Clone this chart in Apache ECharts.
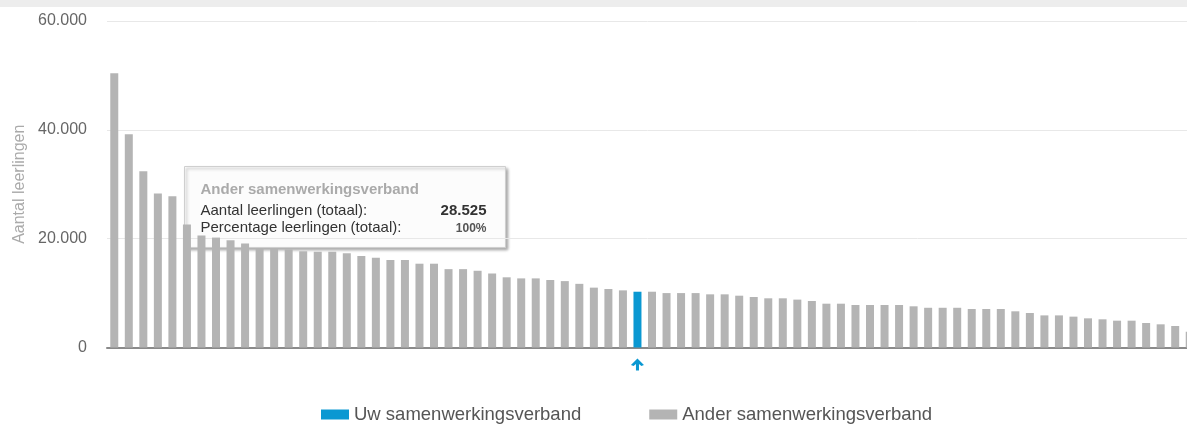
<!DOCTYPE html>
<html>
<head>
<meta charset="utf-8">
<script src="https://cdn.jsdelivr.net/npm/echarts@6/dist/echarts.min.js"></script>
<style>
html,body{margin:0;padding:0;background:#fff;}
#chart{width:1187px;height:428px;}
</style>
</head>
<body>
<div id="chart"></div>
<script>
// ---- data ----
var values = [
  50400, 39200, 32400, 28300, 27800, 22600, 20600, 20200, 19700, 19100,
  18200, 18100, 18000, 17700, 17600, 17600, 17300, 16800, 16500, 16100,
  16100, 15400, 15400, 14400, 14400, 14100, 13600, 12900, 12700, 12700,
  12400, 12200, 11700, 11000, 10750, 10500, 10250, 10250, 10000, 10000,
  10000, 9770, 9770, 9520, 9280, 9040, 9040, 8800, 8550, 8050,
  8050, 7810, 7810, 7810, 7810, 7570, 7300, 7300, 7300, 7070,
  7070, 7070, 6650, 6340, 5900, 5900, 5670, 5360, 5180, 4930,
  4930, 4500, 4260, 3950, 2900
];
var yourIndex = 36;
var categories = values.map(function (v, i) { return 'SWV ' + (i + 1); });
var seriesNames = ['Uw samenwerkingsverband', 'Ander samenwerkingsverband'];
var yTicks = [0, 20000, 40000, 60000];
var tooltipLines = ['Ander samenwerkingsverband', 'Aantal leerlingen (totaal):', 'Percentage leerlingen (totaal):'];
var tooltipValues = ['28.525', '100%'];

var BLUE = '#0a98d2';
var GRAY = '#b4b4b4';
var FONT = 'Liberation Sans, Arial, sans-serif';

function fmt(v) { return String(v).replace(/\B(?=(\d{3})+(?!\d))/g, '.'); }

var ownData = values.map(function (v, i) { return i === yourIndex ? v : '-'; });
var otherData = values.map(function (v, i) { return i === yourIndex ? '-' : v; });

var chart = echarts.init(document.getElementById('chart'), null, {renderer: 'canvas'});
chart.setOption({
  animation: false,
  textStyle: {fontFamily: FONT},
  grid: {left: 107, top: 21, width: 1090, height: 326.5, containLabel: false, outerBoundsMode: 'none'},
  legend: {
    left: 321, top: 405, padding: 0,
    itemWidth: 28, itemHeight: 10, itemGap: 68,
    icon: 'rect',
    textStyle: {fontSize: 18.5, color: '#555', fontFamily: FONT},
    data: seriesNames
  },
  xAxis: {
    type: 'category',
    data: categories,
    axisLine: {show: true, lineStyle: {color: '#8a8a8a', width: 2}},
    axisTick: {show: false},
    axisLabel: {show: false},
    splitLine: {show: false}
  },
  yAxis: {
    type: 'value',
    min: yTicks[0], max: yTicks[yTicks.length - 1], interval: yTicks[1] - yTicks[0],
    name: 'Aantal leerlingen',
    nameLocation: 'middle',
    nameRotate: 90,
    nameGap: 77,
    nameTextStyle: {color: '#aaaaaa', fontSize: 16, fontFamily: FONT},
    axisLine: {show: false},
    axisTick: {show: false},
    axisLabel: {margin: 20, color: '#666', fontSize: 16, fontFamily: FONT, formatter: function (v) { return fmt(v); }},
    splitLine: {lineStyle: {color: '#e8e8e8', width: 1}}
  },
  series: [
    {
      name: seriesNames[0], type: 'bar', data: ownData,
      barWidth: 8, barGap: '-100%',
      itemStyle: {color: BLUE},
      markPoint: {
        silent: true,
        symbol: 'path://M6,0 L12,6.5 L9.6,7.6 L7.4,5.4 L7.4,12 L4.6,12 L4.6,5.4 L2.4,7.6 L0,6.5 Z',
        symbolSize: [13, 12],
        symbolOffset: [0, 17],
        itemStyle: {color: BLUE},
        label: {show: false},
        data: [{coord: [categories[yourIndex], 0]}]
      }
    },
    {
      name: seriesNames[1], type: 'bar', data: otherData,
      barWidth: 8, barGap: '-100%',
      itemStyle: {color: GRAY}
    }
  ],
  graphic: [
    {type: 'rect', left: 0, top: 0, shape: {width: 1187, height: 7}, style: {fill: '#ededed'}, z: 100},
    {
      type: 'group', left: 184, top: 166, z: 100,
      children: [
        {type: 'rect', shape: {x: 0, y: 0, width: 321, height: 81},
         style: {fill: 'rgba(255,255,255,0.96)', stroke: '#cfcfcf', lineWidth: 1,
                 shadowBlur: 3, shadowOffsetX: 2, shadowOffsetY: 2, shadowColor: 'rgba(0,0,0,0.35)'}},
        {type: 'text', x: 16, y: 23, style: {text: tooltipLines[0], fill: '#aaaaaa', font: 'bold 15px ' + FONT, textVerticalAlign: 'middle'}},
        {type: 'text', x: 16, y: 44, style: {text: tooltipLines[1], fill: '#333', font: '15px ' + FONT, textVerticalAlign: 'middle'}},
        {type: 'text', x: 16, y: 61, style: {text: tooltipLines[2], fill: '#333', font: '15px ' + FONT, textVerticalAlign: 'middle'}},
        {type: 'text', x: 302, y: 44, style: {text: tooltipValues[0], fill: '#333', font: 'bold 15px ' + FONT, textAlign: 'right', textVerticalAlign: 'middle'}},
        {type: 'text', x: 302, y: 62, style: {text: tooltipValues[1], fill: '#555', font: 'bold 12px ' + FONT, textAlign: 'right', textVerticalAlign: 'middle'}}
      ]
    }
  ]
});
</script>
</body>
</html>
